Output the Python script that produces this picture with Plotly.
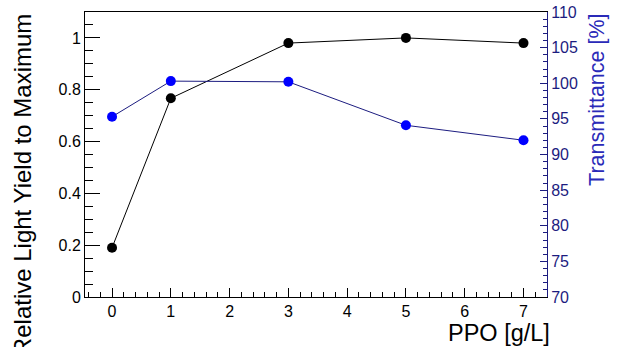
import plotly.graph_objects as go

ppo = [0, 1, 3, 5, 7]
light_yield = [0.19, 0.767, 0.98, 1.0, 0.98]
transmittance = [95.3, 100.3, 100.2, 94.1, 92.0]

x_ticks = [0, 1, 2, 3, 4, 5, 6, 7]

FONT = "Liberation Sans, Arial, Helvetica, sans-serif"
NAVY = "#1c1c80"
BLUE = "#0000ff"

fig = go.Figure()

fig.add_trace(go.Scatter(
    x=ppo, y=light_yield, mode="lines+markers",
    line=dict(color="black", width=1),
    marker=dict(color="black", size=10, symbol="circle"),
    yaxis="y", showlegend=False))

fig.add_trace(go.Scatter(
    x=ppo, y=transmittance, mode="lines+markers",
    line=dict(color=NAVY, width=1),
    marker=dict(color=BLUE, size=10, symbol="circle"),
    yaxis="y2", showlegend=False))

fig.update_layout(
    width=617, height=347,
    margin=dict(l=85, r=70, t=12, b=50, autoexpand=False),
    paper_bgcolor="white", plot_bgcolor="white",
    font=dict(family=FONT, size=16, color="black"),
    xaxis=dict(
        range=[-0.46, 7.40], tickvals=x_ticks, automargin=False,
        showline=True, linecolor="black", linewidth=1, mirror=True,
        ticks="inside", ticklen=9, tickcolor="black", tickwidth=1,
        minor=dict(dtick=0.2, tick0=0, ticks="inside", ticklen=5, tickcolor="black"),
        showgrid=False, zeroline=False,
        tickfont=dict(size=16, color="black"),
    ),
    yaxis=dict(
        range=[0, 1.1], dtick=0.2, tick0=0, automargin=False,
        showline=True, linecolor="black", linewidth=1,
        ticks="inside", ticklen=15, tickcolor="black",
        minor=dict(dtick=0.05, tick0=0, ticks="inside", ticklen=8, tickcolor="black"),
        showgrid=False, zeroline=False,
        tickfont=dict(size=16, color="black"),
    ),
    yaxis2=dict(
        range=[70, 110], dtick=5, tick0=70, automargin=False,
        overlaying="y", side="right", anchor="x",
        showline=True, linecolor=NAVY, linewidth=1,
        ticks="inside", ticklen=7, tickcolor=NAVY,
        minor=dict(dtick=1, tick0=70, ticks="inside", ticklen=4, tickcolor=NAVY),
        showgrid=False, zeroline=False,
        tickfont=dict(size=16, color=NAVY),
    ),
    annotations=[
        dict(text="Relative Light Yield to Maximum", textangle=-90,
             xref="paper", yref="paper", x=-0.135, y=1.0,
             xanchor="center", yanchor="top", showarrow=False,
             font=dict(size=24, color="black")),
        dict(text="Transmittance [%]", textangle=-90,
             xref="paper", yref="paper", x=1.108, y=1.0,
             xanchor="center", yanchor="top", showarrow=False,
             font=dict(size=21.5, color="#2a2ab8")),
        dict(text="PPO [g/L]",
             xref="paper", yref="paper", x=1.011, y=-0.072,
             xanchor="right", yanchor="top", showarrow=False,
             font=dict(size=23.5, color="black")),
    ],
)

fig.write_html(
    "out.html",
    config={"displayModeBar": False},
    post_script="document.body.style.margin='0';document.body.style.overflow='hidden';",
)
